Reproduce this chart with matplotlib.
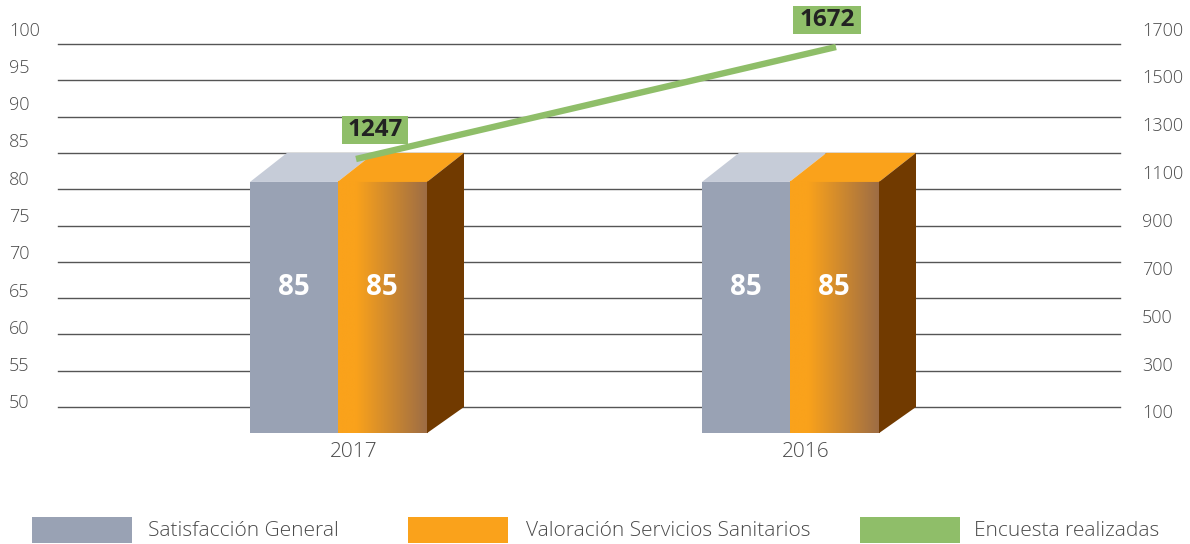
import matplotlib
matplotlib.use('Agg')
import matplotlib.pyplot as plt
import numpy as np
from matplotlib.colors import LinearSegmentedColormap
from matplotlib.patches import Polygon, Rectangle

categories = ['2017', '2016']
satisfaccion = [85, 85]
valoracion = [85, 85]
encuestas = [1247, 1672]
left_ticks = [100, 95, 90, 85, 80, 75, 70, 65, 60, 55, 50]
right_ticks = [1700, 1500, 1300, 1100, 900, 700, 500, 300, 100]
series_names = ['Satisfacción General', 'Valoración Servicios Sanitarios', 'Encuesta realizadas']

W, H = 1190, 544
GREY = '#99A2B4'
GREY_TOP = '#C6CCD8'
ORANGE = '#FAA21B'
BROWN = '#713A00'
GREEN = '#8FBE69'
TEXT = '#4A4A4A'

plt.rcParams['font.family'] = ['Open Sans', 'DejaVu Sans']


def axes_box(left, top, right, bottom):
    return [left / W, 1 - bottom / H, (right - left) / W, (bottom - top) / H]


fig = plt.figure(figsize=(W / 100, H / 100), dpi=100)
ax = fig.add_axes(axes_box(58, 44, 1120, 407))
ax.set_xlim((58 - 353) / 452, (1120 - 353) / 452)
ax.set_ylim(50, 100)
ax.set_facecolor('none')
for s in ax.spines.values():
    s.set_visible(False)
ax.set_xticks([])
ax.set_yticks([])

for v in left_ticks:
    ax.plot(ax.get_xlim(), [v, v], color='#555555', lw=1, zorder=1, clip_on=False)

# 3d look of the bars, all in data units
bar_w = 88.5 / 452
dx = 37 / 452
dy_top = 4.0
dy_bottom = 3.6
x_shift = -103 / 452

grad = LinearSegmentedColormap.from_list('o', [(0, ORANGE), (0.2, ORANGE), (1, '#9C6C45')])
xlim, ylim = ax.get_xlim(), ax.get_ylim()

for i, cat in enumerate(categories):
    x0 = i + x_shift
    x1 = x0 + bar_w - 1 / 452
    x2 = x0 + 2 * bar_w
    top1 = satisfaccion[i] - dy_top
    top2 = valoracion[i] - dy_top
    base = 50 - dy_bottom

    ax.add_patch(Rectangle((x0, base), x1 - x0, top1 - base, fc=GREY, ec='none', zorder=3, clip_on=False))
    ax.add_patch(Polygon([(x0, top1), (x1, top1), (x1 + dx, satisfaccion[i]), (x0 + dx, satisfaccion[i])],
                         fc=GREY_TOP, ec='none', zorder=2, clip_on=False))
    ax.imshow(np.linspace(0, 1, 256).reshape(1, -1), cmap=grad, aspect='auto', zorder=3,
              extent=(x1, x2, base, top2), clip_on=False)
    ax.add_patch(Polygon([(x1, top2), (x2, top2), (x2 + dx, valoracion[i]), (x1 + dx, valoracion[i])],
                         fc=ORANGE, ec='none', zorder=3, clip_on=False))
    ax.add_patch(Polygon([(x2, base), (x2 + dx, 50), (x2 + dx, valoracion[i]), (x2, top2)],
                         fc=BROWN, ec='none', zorder=3, clip_on=False))

    for xc, val in [(x0 + bar_w / 2, satisfaccion[i]), (x1 + bar_w / 2, valoracion[i])]:
        ax.text(xc, 66.5, str(val), color='white', fontsize=20, fontweight='bold',
                ha='center', va='center', zorder=5)
    ax.text(i + 1 / 452, 43.75, cat, color=TEXT, fontsize=15, fontweight='light', ha='center', va='center')

ax.set_xlim(xlim)
ax.set_ylim(ylim)

# line has its own scale, drawn on a twin axis
ax2 = ax.twinx()
per_unit = (159 - 47) / (encuestas[1] - encuestas[0])
ax2.set_ylim(encuestas[0] - (407 - 159) / per_unit, encuestas[0] + (159 - 44) / per_unit)
ax2.set_xlim(xlim)
ax2.axis('off')
line_x = [3 / 452, 1 + 31 / 452]
ax2.plot(line_x, encuestas, color=GREEN, lw=4.6, solid_capstyle='butt', zorder=6)
offsets = [(19, 29), (-9, 27)]
for i, v in enumerate(encuestas):
    ax2.annotate(str(v), (line_x[i], v), xytext=(offsets[i][0] * 0.72, offsets[i][1] * 0.72),
                 textcoords='offset points', ha='center', va='center', fontsize=17.5, fontweight='bold',
                 color='#222222', zorder=7, annotation_clip=False,
                 bbox=dict(boxstyle='square,pad=0.24', mutation_aspect=0.3, fc=GREEN, ec='none'))

# tick labels do not line up with the gridlines in the original, so own scales here
lab_l = fig.add_axes(axes_box(58, 30.5, 1120, 403.5))
lab_l.set_ylim(left_ticks[-1], left_ticks[0])
lab_l.axis('off')
for v in left_ticks:
    lab_l.text(-49 / 1062, v, str(v), transform=lab_l.get_yaxis_transform(), color=TEXT,
               fontsize=13, fontweight='light', ha='left', va='center')

lab_r = fig.add_axes(axes_box(58, 30.5, 1120, 413.5))
lab_r.set_ylim(right_ticks[-1], right_ticks[0])
lab_r.axis('off')
for v in right_ticks:
    lab_r.text(1 + 22 / 1062, v, str(v), transform=lab_r.get_yaxis_transform(), color=TEXT,
               fontsize=13, fontweight='light', ha='left', va='center')

# legend
legend_x = [32, 408, 860]
legend_cols = [GREY, ORANGE, GREEN]
legend_text_x = [148, 526, 974]
for name, x, c, tx in zip(series_names, legend_x, legend_cols, legend_text_x):
    fig.add_artist(Rectangle((x / W, 1 - 543 / H), 100 / W, 26 / H, transform=fig.transFigure, fc=c, ec='none'))
    fig.text(tx / W, 1 - 531 / H, name, color=TEXT, fontsize=15, fontweight='light', ha='left', va='center')

fig.savefig('out.png', dpi=100, facecolor='white')
plt.close(fig)
